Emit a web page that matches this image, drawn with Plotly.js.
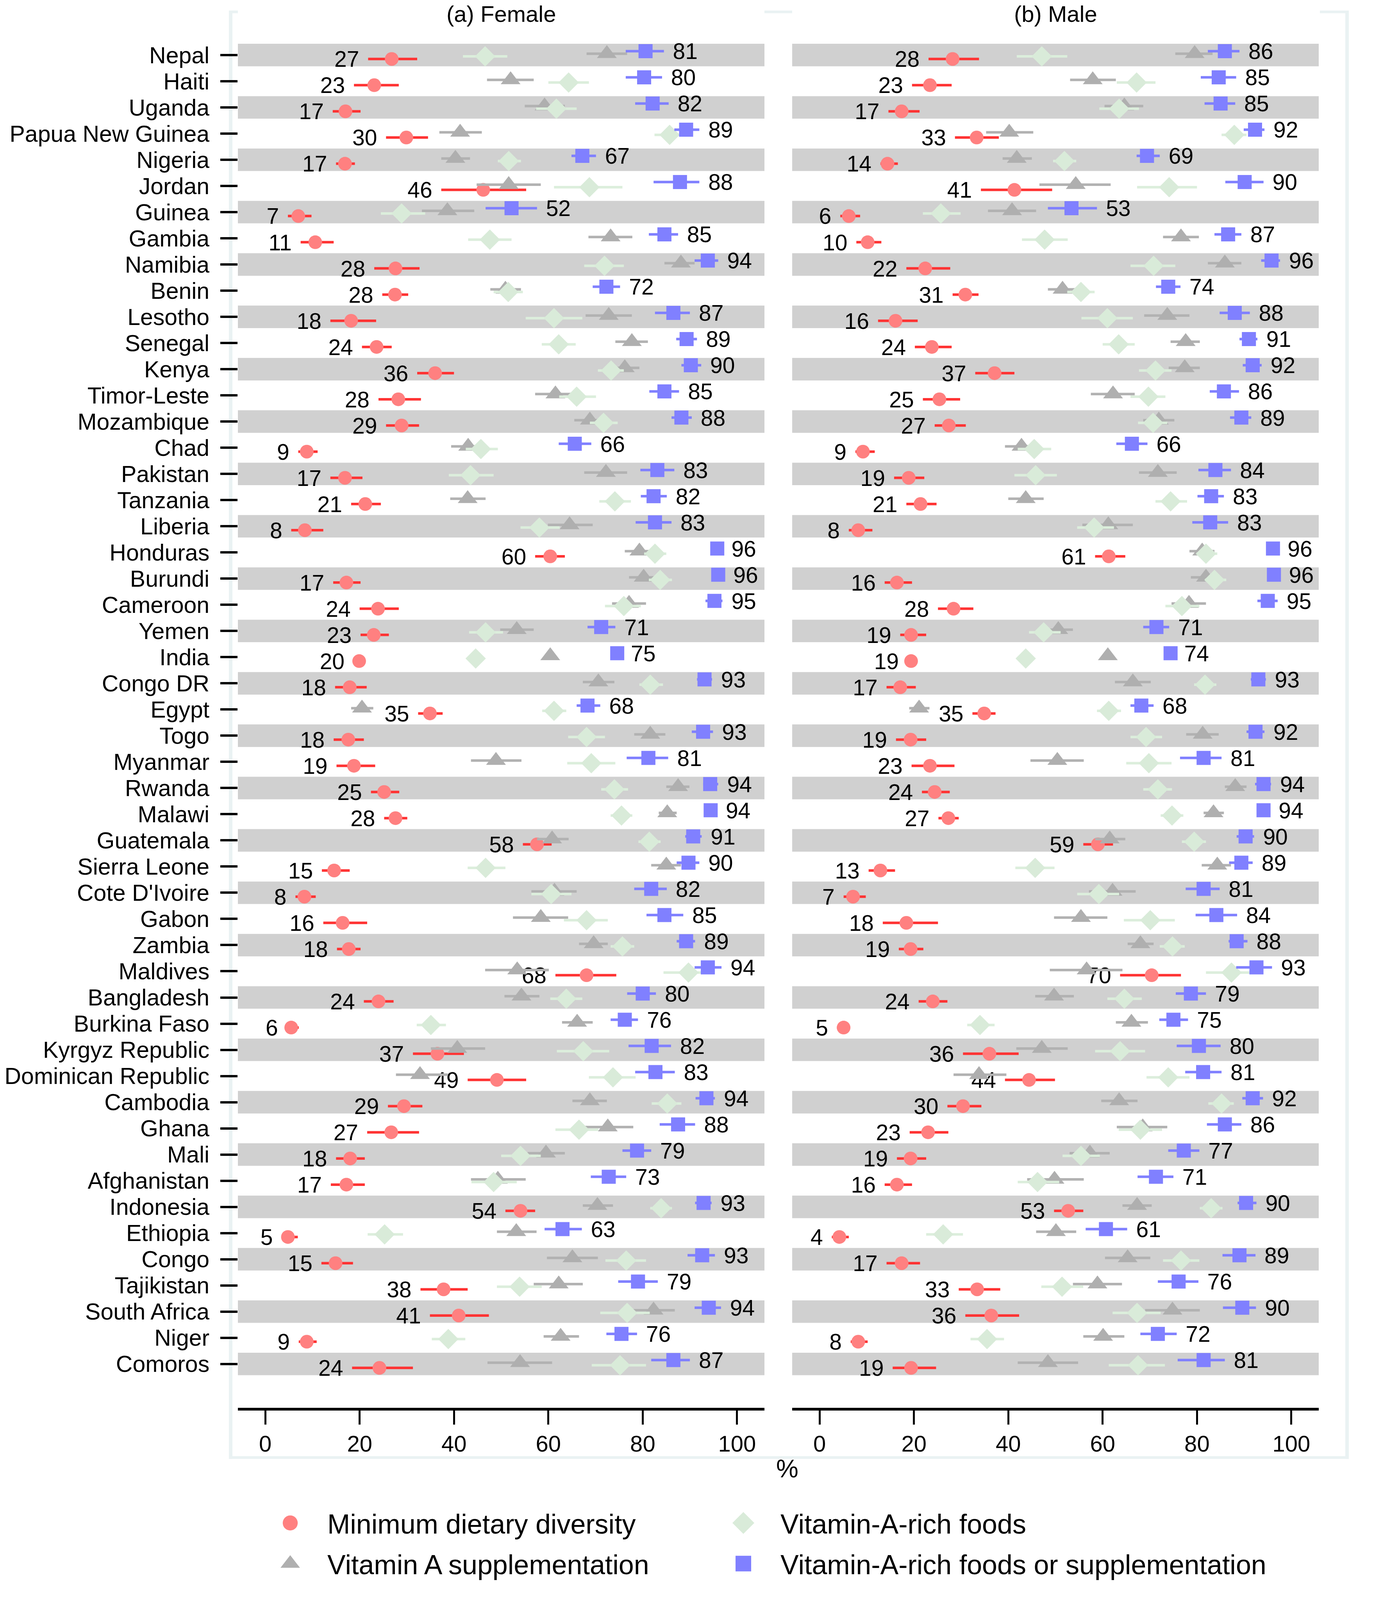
<!DOCTYPE html>
<html><head><meta charset="utf-8">
<script src="https://cdn.plot.ly/plotly-3.0.1.min.js"></script>
<style>html,body{margin:0;padding:0;background:#fff;overflow:hidden}</style>
</head><body>
<div id="chart" style="width:3561px;height:4096px"></div>
<script>
// ---------------- DATA ----------------
const countries = ["Nepal","Haiti","Uganda","Papua New Guinea","Nigeria","Jordan","Guinea","Gambia","Namibia","Benin","Lesotho","Senegal","Kenya","Timor-Leste","Mozambique","Chad","Pakistan","Tanzania","Liberia","Honduras","Burundi","Cameroon","Yemen","India","Congo DR","Egypt","Togo","Myanmar","Rwanda","Malawi","Guatemala","Sierra Leone","Cote D'Ivoire","Gabon","Zambia","Maldives","Bangladesh","Burkina Faso","Kyrgyz Republic","Dominican Republic","Cambodia","Ghana","Mali","Afghanistan","Indonesia","Ethiopia","Congo","Tajikistan","South Africa","Niger","Comoros"];
const xTicks = [0, 20, 40, 60, 80, 100];
// Female
const femMDD   = [26.8,23.1,17.0,29.9,16.9,46.2,7.0,10.6,27.6,27.5,18.2,23.6,36.0,28.2,28.9,8.8,16.9,21.2,8.4,60.4,17.2,23.9,23.0,19.9,17.9,34.9,17.6,18.8,25.2,27.6,57.6,14.6,8.3,16.4,17.7,68.1,24.0,5.5,36.5,49.1,29.4,26.7,18.0,17.2,54.1,4.8,14.9,37.8,41.0,8.8,24.2];
const femMDDlo = [21.8,18.8,14.3,25.6,15.0,37.3,4.8,7.5,23.1,24.8,13.8,20.5,32.2,24.0,25.6,7.0,13.8,18.2,5.5,57.2,14.4,20.0,20.2,18.7,14.8,32.4,14.5,15.1,22.4,25.2,54.6,12.0,6.4,12.3,15.2,61.5,20.9,4.6,31.3,42.9,26.0,21.6,15.0,13.9,50.9,3.5,11.9,32.9,34.9,7.1,18.4];
const femMDDhi = [32.2,28.3,20.2,34.5,19.0,55.3,9.8,14.5,32.7,30.3,23.5,26.8,40.0,33.0,32.6,11.1,20.6,24.5,12.3,63.5,20.2,28.3,26.2,21.0,21.5,37.6,20.9,23.3,28.4,30.1,60.7,17.9,10.7,21.6,20.2,74.4,27.2,7.1,42.1,55.3,33.3,32.6,21.1,21.1,57.2,6.9,18.6,42.9,47.4,10.9,31.3];
const femVAS   = [72.4,52.0,59.2,41.3,40.3,51.6,38.6,73.2,88.1,50.9,72.8,77.7,76.2,61.5,68.8,43.0,72.2,42.9,64.5,79.3,80.2,77.1,53.3,60.4,70.6,20.5,81.6,48.9,87.5,85.2,60.8,85.0,61.3,58.4,69.6,53.4,54.3,66.1,40.7,32.8,68.8,72.6,59.5,49.3,70.4,53.2,65.1,62.2,82.3,62.6,54.0];
const femVASlo = [68.1,47.0,55.0,36.9,37.3,44.8,33.2,68.5,84.6,47.7,67.9,74.2,72.8,57.2,65.5,39.4,67.6,39.2,59.9,76.2,77.1,73.5,49.8,60.4,67.3,18.2,78.2,43.6,85.0,83.4,57.6,81.8,56.4,52.5,66.5,46.6,50.7,62.9,35.1,27.7,65.1,67.4,55.6,43.6,67.3,49.1,59.7,56.9,77.8,59.0,47.1];
const femVAShi = [76.7,56.9,63.5,45.9,43.4,58.4,44.3,77.8,91.0,54.2,77.7,81.1,79.3,66.0,72.1,46.2,76.7,46.7,69.4,82.0,83.2,80.7,56.9,60.4,74.0,22.9,84.8,54.3,89.9,87.2,64.3,88.1,66.0,64.2,72.6,60.1,58.1,69.4,46.6,38.7,72.4,78.0,63.5,55.2,73.7,57.5,70.5,67.3,86.8,66.5,60.8];
const femFood   = [46.6,64.3,61.7,85.7,51.6,68.7,28.9,47.6,71.9,51.5,61.2,62.2,73.3,66.0,71.7,45.7,43.5,74.1,58.1,82.6,83.7,76.0,46.7,44.6,81.6,61.2,68.1,69.1,74.0,75.5,81.4,46.7,60.6,68.1,75.7,89.7,63.8,35.1,67.4,73.7,85.2,66.5,54.1,48.4,83.9,25.3,76.5,53.9,76.7,38.8,75.2];
const femFoodlo = [41.9,60.0,57.4,82.5,49.3,61.2,24.5,43.0,67.6,48.4,55.2,58.6,70.5,62.3,68.8,42.5,38.9,70.8,54.1,80.3,81.3,72.0,43.2,44.6,79.3,58.7,64.2,64.0,71.2,73.2,79.1,42.9,56.4,63.3,73.2,84.4,60.4,32.1,61.8,68.6,81.9,61.5,50.0,43.7,81.6,21.7,72.1,49.1,71.0,35.3,69.2];
const femFoodhi = [51.3,68.6,66.0,88.5,54.2,75.7,33.9,52.2,76.0,54.6,67.2,65.8,76.0,70.1,74.7,49.3,48.4,77.5,62.4,85.0,86.2,79.6,50.4,44.6,84.3,63.8,72.0,74.2,76.9,77.8,83.8,50.9,64.9,72.6,78.2,94.5,67.2,38.3,72.9,78.5,88.2,70.6,58.4,53.3,86.2,29.2,80.7,58.6,81.5,42.4,80.7];
const femComb   = [80.6,80.3,82.1,89.2,67.2,87.9,52.2,84.6,93.8,72.3,86.5,89.3,90.2,84.6,88.2,65.6,83.1,82.3,82.6,95.8,96.0,95.2,71.2,74.6,93.1,68.3,92.8,81.2,94.3,94.4,90.7,89.7,81.8,84.6,89.2,93.8,80.0,76.2,81.9,82.7,93.5,87.5,78.8,72.8,92.9,63.0,92.6,79.0,94.0,75.5,86.5];
const femComblo = [76.4,76.4,78.4,86.7,64.9,82.3,46.7,81.3,91.0,69.4,82.6,87.1,88.2,81.4,86.1,62.2,79.5,79.6,78.5,95.0,95.2,93.3,68.3,73.6,91.5,66.0,90.4,76.6,92.8,93.2,89.0,87.2,78.2,80.8,87.2,91.0,76.7,73.2,77.0,78.4,91.2,83.6,75.7,69.0,91.1,59.2,89.5,74.8,91.0,72.3,81.8];
const femCombhi = [84.5,84.1,85.5,92.0,70.1,92.0,57.6,87.5,96.0,75.2,90.0,91.5,92.4,87.7,90.4,69.1,86.7,85.1,86.1,96.9,97.3,96.9,74.2,75.6,94.7,71.0,94.9,85.4,96.0,95.7,92.5,92.0,85.1,88.6,91.1,96.7,82.8,79.0,86.0,86.8,95.3,91.1,81.8,76.5,94.6,67.1,95.3,83.2,96.6,78.8,90.0];
// Male
const malMDD   = [28.2,23.4,17.4,33.3,14.4,41.3,6.2,10.2,22.4,30.9,16.1,23.8,37.1,25.4,27.4,9.2,18.9,21.4,8.2,61.3,16.4,28.4,19.4,19.4,17.1,34.9,19.3,23.4,24.4,27.3,59.0,12.9,7.1,18.4,19.3,70.4,24.0,5.1,36.0,44.4,30.4,23.0,19.3,16.4,52.7,4.2,17.4,33.4,36.4,8.2,19.4];
const malMDDlo = [23.1,19.6,14.6,28.7,12.9,34.2,4.4,7.8,18.4,28.2,12.4,20.2,33.0,21.9,24.4,7.6,15.8,18.4,6.2,58.4,13.8,25.1,17.1,18.7,14.2,32.4,16.2,19.5,21.7,25.2,55.9,10.4,5.1,13.4,16.8,63.7,21.0,3.7,30.4,39.3,27.1,19.1,16.4,13.8,49.7,2.6,14.2,29.5,30.9,6.6,15.5];
const malMDDhi = [33.8,28.0,21.2,38.0,16.6,49.3,8.6,13.1,27.7,33.7,20.8,28.0,41.3,29.8,31.0,11.7,22.2,24.8,11.2,64.8,19.6,32.6,22.6,20.2,20.4,37.3,22.6,28.6,27.6,29.5,62.2,16.0,9.8,25.1,22.0,76.6,27.1,6.0,42.2,49.9,34.3,27.3,22.6,19.6,55.9,6.2,21.3,38.3,42.3,10.2,24.7];
const malVAS   = [79.5,57.9,64.6,40.2,41.8,54.3,40.8,76.6,85.9,51.5,73.7,77.6,77.4,62.2,71.9,42.8,71.7,43.7,61.2,81.1,81.9,78.3,50.6,61.1,66.4,21.1,81.2,50.4,88.1,83.5,61.5,84.3,62.1,55.4,68.0,56.6,49.7,66.1,47.1,33.8,63.5,68.5,57.3,49.8,67.3,50.1,65.3,58.9,74.8,60.1,48.4];
const malVASlo = [75.4,53.1,60.4,35.3,38.8,46.6,35.7,72.8,82.3,48.4,68.8,74.4,74.0,57.5,68.6,39.3,67.7,40.0,55.7,78.4,78.7,74.6,47.4,61.1,62.6,19.0,77.7,44.7,85.9,81.4,58.4,81.0,57.1,49.7,65.3,48.8,45.7,62.8,41.7,28.4,59.7,63.0,53.0,44.0,64.2,45.9,60.5,53.7,69.0,55.9,42.0];
const malVAShi = [83.3,62.8,68.6,45.3,45.0,61.7,45.9,80.4,89.4,54.6,78.4,80.6,80.6,66.8,75.2,46.2,75.7,47.5,66.4,83.7,84.6,81.9,53.7,61.1,70.2,23.3,84.6,56.0,90.5,85.7,64.8,87.2,67.0,61.0,70.8,64.2,53.9,69.6,52.6,39.6,67.4,73.7,61.5,56.0,70.4,54.4,70.1,64.1,80.6,64.6,54.8];
const malFood   = [47.1,67.2,63.5,87.9,51.9,74.1,25.7,47.7,70.8,55.4,61.0,63.4,71.2,69.7,70.7,45.5,45.8,74.4,58.2,81.9,83.7,76.8,47.5,43.7,81.7,61.3,69.2,69.8,71.7,74.7,79.4,45.7,59.2,70.1,74.8,87.3,64.6,34.0,63.7,73.9,85.2,68.0,55.4,46.2,83.0,26.2,76.6,51.4,67.3,35.5,67.5];
const malFoodlo = [41.8,63.0,59.3,85.2,49.5,67.3,21.9,42.9,65.9,52.5,55.5,60.0,67.7,65.9,67.5,42.0,41.3,71.2,54.6,79.9,81.7,73.3,44.4,43.7,79.4,58.8,65.9,65.0,68.6,72.3,76.8,41.5,54.6,64.5,72.1,81.9,61.0,31.3,58.4,69.3,82.4,63.4,51.5,42.0,80.6,22.6,72.8,47.0,62.1,32.0,61.3];
const malFoodhi = [52.5,71.2,67.7,90.5,54.4,80.0,29.9,52.6,75.4,58.3,66.4,66.8,74.6,73.3,73.7,49.1,50.3,77.9,62.4,84.3,86.2,80.5,51.1,43.7,84.1,63.9,72.6,74.6,74.7,77.1,81.9,49.8,63.5,75.3,77.4,91.5,68.3,37.1,69.0,78.4,87.8,72.6,59.4,50.8,85.4,30.4,80.5,55.9,72.3,39.1,73.2];
const malComb   = [85.9,84.6,85.0,92.3,69.4,90.1,53.4,86.6,95.8,73.9,88.0,91.0,91.8,85.7,89.4,66.2,83.9,83.0,82.8,96.1,96.3,95.0,71.4,74.4,93.0,68.2,92.4,81.4,94.1,94.1,90.3,89.4,81.4,84.1,88.4,92.6,78.7,75.0,80.4,81.3,91.8,85.9,77.2,71.3,90.4,60.7,89.0,76.1,89.6,71.7,81.4];
const malComblo = [82.3,80.8,81.6,89.9,67.2,86.0,48.4,83.7,93.6,71.3,84.8,89.0,89.7,82.7,87.0,62.9,80.3,80.1,79.0,95.3,95.2,92.8,68.6,73.4,91.4,65.9,90.5,76.4,92.3,92.8,88.4,86.8,77.6,79.7,86.7,88.3,75.5,72.0,75.7,77.5,89.6,82.1,73.9,67.4,88.6,56.4,85.4,71.7,85.5,68.0,75.9];
const malCombhi = [89.0,88.3,88.1,94.3,72.1,94.1,58.8,89.4,97.6,76.5,91.2,92.8,93.7,88.9,91.5,69.5,87.2,85.7,86.6,97.3,97.6,97.1,74.1,75.4,94.6,70.8,94.3,85.2,95.7,95.4,92.1,91.8,84.8,88.5,90.7,95.9,81.9,78.1,85.0,85.2,94.0,89.4,80.5,75.0,92.6,65.2,92.4,80.3,92.5,75.7,85.9];
const panelTitles = ["(a) Female", "(b) Male"];
const seriesNames = ["Minimum dietary diversity", "Vitamin A supplementation", "Vitamin-A-rich foods", "Vitamin-A-rich foods or supplementation"];

// ---------------- GEOMETRY (reference is 3561x4717; viewport is 3561x4096, so y is mapped by fraction) ----------------
const W = 3561, H = 4096, REFH = 4717;
const px = v => v / W;
const py = v => 1 - v / REFH;
const FONT = "'Liberation Sans', Arial, Helvetica, sans-serif";
const idx = countries.map((c, i) => i);
const OFF = {mdd: 0.15, food: 0.05, vas: -0.05, comb: -0.15};
const TXT = 0.092;
const COL = {mdd: '#FF8080', mddE: '#FF3333', vas: '#AFAFAF', vasE: '#B2B2B2', food: '#D9EBD9', foodE: '#DCEEDC', comb: '#8080FF', combE: '#8080FF'};
function errSpec(v, lo, hi, color) {
  return {type: 'data', symmetric: false, array: hi.map((h, i) => h - v[i]), arrayminus: lo.map((l, i) => v[i] - l), width: 0, thickness: 6.5, color: color};
}
const yOf = off => idx.map(i => i + off);
function panel(xa, d, leg) {
  return [
    {type: 'scatter', mode: 'markers', name: seriesNames[0], x: d.mdd, y: yOf(OFF.mdd), xaxis: xa, yaxis: 'y',
     marker: {symbol: 'circle', size: 35, color: COL.mdd}, error_x: errSpec(d.mdd, d.mddLo, d.mddHi, COL.mddE),
     showlegend: leg, legend: 'legend', legendgroup: 'g1'},
    {type: 'scatter', mode: 'markers+text', x: d.mddLo, y: yOf(OFF.mdd + TXT), xaxis: xa, yaxis: 'y',
     text: d.mdd.map(v => String(Math.round(v))), textposition: 'middle left',
     textfont: {size: 57, color: '#000', family: FONT}, marker: {size: 35, color: 'rgba(0,0,0,0)'},
     showlegend: false, cliponaxis: false},
    {type: 'scatter', mode: 'markers', name: seriesNames[1], x: d.vas, y: yOf(OFF.vas), xaxis: xa, yaxis: 'y',
     marker: {symbol: 'triangle-up', size: 44, color: COL.vas}, error_x: errSpec(d.vas, d.vasLo, d.vasHi, COL.vasE),
     showlegend: leg, legend: 'legend', legendgroup: 'g2'},
    {type: 'scatter', mode: 'markers', name: seriesNames[2], x: d.food, y: yOf(OFF.food), xaxis: xa, yaxis: 'y',
     marker: {symbol: 'diamond', size: 40, color: COL.food}, error_x: errSpec(d.food, d.foodLo, d.foodHi, COL.foodE),
     showlegend: leg, legend: 'legend2', legendgroup: 'g3'},
    {type: 'scatter', mode: 'markers', name: seriesNames[3], x: d.comb, y: yOf(OFF.comb), xaxis: xa, yaxis: 'y',
     marker: {symbol: 'square', size: 36, color: COL.comb}, error_x: errSpec(d.comb, d.combLo, d.combHi, COL.combE),
     showlegend: leg, legend: 'legend2', legendgroup: 'g4'},
    {type: 'scatter', mode: 'markers+text', x: d.combHi, y: yOf(OFF.comb + TXT), xaxis: xa, yaxis: 'y',
     text: d.comb.map(v => String(Math.round(v))), textposition: 'middle right',
     textfont: {size: 57, color: '#000', family: FONT}, marker: {size: 35, color: 'rgba(0,0,0,0)'},
     showlegend: false, cliponaxis: false}
  ];
}
const fem = {mdd: femMDD, mddLo: femMDDlo, mddHi: femMDDhi, vas: femVAS, vasLo: femVASlo, vasHi: femVAShi,
             food: femFood, foodLo: femFoodlo, foodHi: femFoodhi, comb: femComb, combLo: femComblo, combHi: femCombhi};
const mal = {mdd: malMDD, mddLo: malMDDlo, mddHi: malMDDhi, vas: malVAS, vasLo: malVASlo, vasHi: malVAShi,
             food: malFood, foodLo: malFoodlo, foodHi: malFoodhi, comb: malComb, combLo: malComblo, combHi: malCombhi};
const data = panel('x', fem, true).concat(panel('x2', mal, false));

const shapes = [];
['x domain', 'x2 domain'].forEach(xr => {
  idx.forEach(i => {
    if (i % 2 === 0) shapes.push({type: 'rect', xref: xr, yref: 'y', x0: 0, x1: 1, y0: i - 0.43, y1: i + 0.43,
      fillcolor: '#D0D0D0', line: {width: 0}, layer: 'below'});
  });
});
const FR = '#EAF2F3';
function prect(x0, y0, x1, y1) {
  return {type: 'rect', xref: 'paper', yref: 'paper', x0: px(x0), x1: px(x1), y0: py(y1), y1: py(y0), fillcolor: FR, line: {width: 0}, layer: 'below'};
}
shapes.push(prect(586, 31, 595, 4301));
shapes.push(prect(3444, 31, 3453, 4301));
shapes.push(prect(586, 4293, 3453, 4301));
shapes.push(prect(586, 31, 609, 39));
shapes.push(prect(1957, 31, 2028, 39));
shapes.push(prect(3379, 31, 3453, 39));

const xaxisBase = {range: [-5.8, 105.8], anchor: 'y', tickvals: xTicks, ticks: 'outside', ticklen: 36, tickwidth: 5,
  tickcolor: '#000', showline: true, linewidth: 7, linecolor: '#000', showgrid: false, zeroline: false,
  tickfont: {size: 58, color: '#000', family: FONT}, fixedrange: true};
const legBase = {orientation: 'v', xanchor: 'left', yanchor: 'top', font: {size: 70, color: '#000', family: FONT},
  itemwidth: 180, tracegroupgap: 10, bgcolor: 'rgba(0,0,0,0)', borderwidth: 0, traceorder: 'grouped'};
const layout = {
  width: W, height: H, margin: {l: 0, r: 0, t: 0, b: 0, autoexpand: false},
  paper_bgcolor: '#fff', plot_bgcolor: 'rgba(0,0,0,0)', font: {family: FONT, color: '#000'},
  hovermode: false, showlegend: true,
  xaxis: Object.assign({}, xaxisBase, {domain: [px(609), px(1957)]}),
  xaxis2: Object.assign({}, xaxisBase, {domain: [px(2028), px(3376)]}),
  yaxis: {domain: [py(4150), py(116)], range: [51.67, -0.60], tickvals: idx, ticktext: countries, ticks: 'outside',
    ticklen: 44, tickwidth: 6, tickcolor: '#000', showline: false, showgrid: false, zeroline: false,
    ticklabelstandoff: 16, tickfont: {size: 59, color: '#000', family: FONT}, fixedrange: true},
  shapes: shapes,
  annotations: [
    {text: panelTitles[0], xref: 'x domain', x: 0.5, yref: 'paper', y: py(41), yanchor: 'middle', showarrow: false, font: {size: 58, color: '#000', family: FONT}},
    {text: panelTitles[1], xref: 'x2 domain', x: 0.5, yref: 'paper', y: py(41), yanchor: 'middle', showarrow: false, font: {size: 58, color: '#000', family: FONT}},
    {text: '%', xref: 'paper', x: px(2015), yref: 'paper', y: py(4330), yanchor: 'middle', showarrow: false, font: {size: 64, color: '#000', family: FONT}}
  ],
  legend: Object.assign({}, legBase, {x: px(648), y: py(4430)}),
  legend2: Object.assign({}, legBase, {x: px(1808), y: py(4430)})
};
const SYM_SCALE = {};
SYM_SCALE[seriesNames[0]] = 2.4;
SYM_SCALE[seriesNames[1]] = 2.7;
SYM_SCALE[seriesNames[2]] = 2.7;
SYM_SCALE[seriesNames[3]] = 2.5;

function scaleLegendSymbols(gd) {
  gd.querySelectorAll('g.legendpoints path.scatterpts').forEach(function (p) {
    let el = p, name = null;
    while (el && el !== gd) {
      const d = el.__data__;
      if (d && d[0] && d[0].trace) { name = d[0].trace.name; break; }
      el = el.parentNode;
    }
    const k = SYM_SCALE[name];
    if (!k) return;
    if (!p.hasAttribute('data-t0')) p.setAttribute('data-t0', p.getAttribute('transform') || '');
    p.setAttribute('transform', p.getAttribute('data-t0') + ' scale(' + k + ')');
  });
}
Plotly.newPlot('chart', data, layout, {staticPlot: true, displayModeBar: false}).then(function (gd) {
  scaleLegendSymbols(gd);
  setTimeout(function () { scaleLegendSymbols(gd); }, 150);
  setTimeout(function () { scaleLegendSymbols(gd); }, 600);
});
</script>
</body></html>
